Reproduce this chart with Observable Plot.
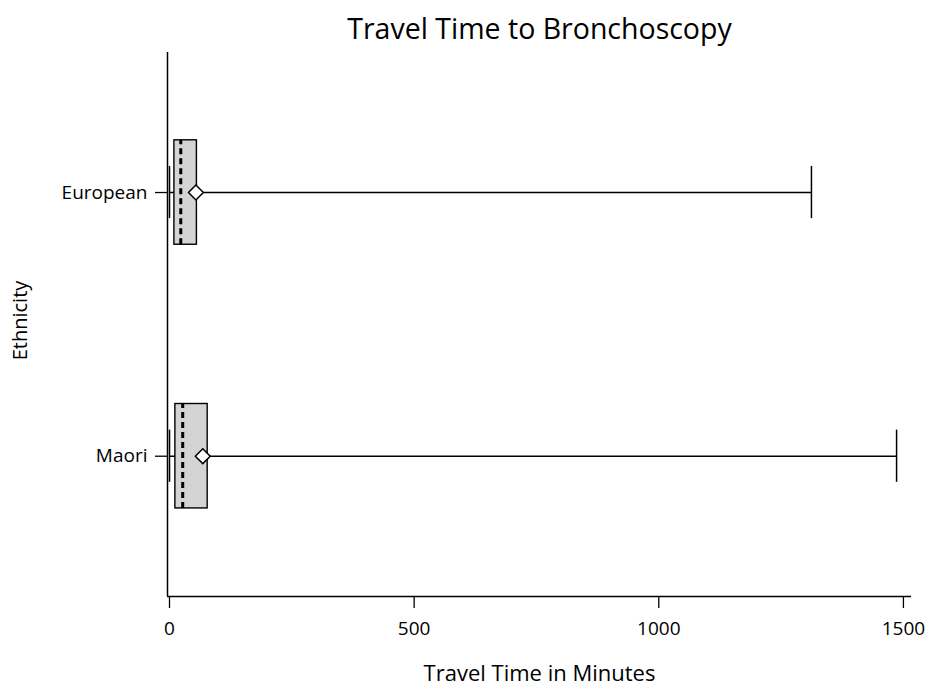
<!DOCTYPE html>
<html>
<head>
<meta charset="utf-8">
<script src="https://cdn.jsdelivr.net/npm/d3@7"></script>
<script src="https://cdn.jsdelivr.net/npm/@observablehq/plot@0.6"></script>
<style>
  body { margin: 0; background: #fff; }
  svg { font-family: "Open Sans", Lato, sans-serif; }
</style>
</head>
<body>
<div id="chart"></div>
<script>
// Data (minutes)
const categories = ["Maori", "European"];
const minVals    = [0, 0];
const q1Vals     = [12, 10];
const medianVals = [27, 23];
const q3Vals     = [78, 56];
const meanVals   = [68, 54];
const maxVals    = [1486, 1312];
const xTicks     = [0, 500, 1000, 1500];

const titleText = "Travel Time to Bronchoscopy";
const xLabel = "Travel Time in Minutes";
const yLabel = "Ethnicity";

const rows = categories.map((c, i) => ({
  cat: c, idx: i,
  min: minVals[i], q1: q1Vals[i], median: medianVals[i],
  q3: q3Vals[i], mean: meanVals[i], max: maxVals[i]
}));

const boxHalf = 0.198;
const capHalf = 0.099;
const xDomain = [-4.1, 1516.5];
const yDomain = [-0.532, 1.531];
const idxTicks = categories.map((c, i) => i);

const chart = Plot.plot({
  width: 927,
  height: 686,
  marginLeft: 167,
  marginRight: 16,
  marginTop: 52,
  marginBottom: 90,
  style: { fontFamily: "'Open Sans', Lato, sans-serif", fontSize: "19px", color: "#000", background: "#fff" },
  x: { domain: xDomain, ticks: xTicks, tickFormat: d => String(d) },
  y: { domain: yDomain, ticks: idxTicks, tickFormat: i => categories[i] },
  marks: [
    // axis lines
    Plot.ruleX([xDomain[0]], { stroke: "#000", strokeWidth: 1.5 }),
    Plot.ruleY([yDomain[0]], { stroke: "#000", strokeWidth: 1.5 }),
    Plot.axisX({ ticks: xTicks, tickFormat: d => String(d), tickSize: 12, tickPadding: 13, fontSize: 19, label: null, stroke: "#000", strokeWidth: 1.3 }),
    Plot.axisY({ ticks: idxTicks, tickFormat: i => categories[i], tickSize: 12, tickPadding: 8, fontSize: 19, label: null, stroke: "#000", strokeWidth: 1.3 }),
    // axis titles
    Plot.text([xLabel], { frameAnchor: "bottom", lineAnchor: "middle", textAnchor: "middle", text: d => d, dy: 77, fontSize: 22, fill: "#000" }),
    Plot.text([yLabel], { frameAnchor: "left", lineAnchor: "middle", textAnchor: "middle", text: d => d, dx: -147, dy: -4, rotate: -90, fontSize: 20, fill: "#000" }),
    // whisker line
    Plot.ruleY(rows, { y: "idx", x1: "min", x2: "max", stroke: "#000", strokeWidth: 1.4 }),
    // whisker caps
    Plot.ruleX(rows, { x: "min", y1: d => d.idx - capHalf, y2: d => d.idx + capHalf, stroke: "#000", strokeWidth: 1.5 }),
    Plot.ruleX(rows, { x: "max", y1: d => d.idx - capHalf, y2: d => d.idx + capHalf, stroke: "#000", strokeWidth: 1.5 }),
    // box
    Plot.rect(rows, { x1: "q1", x2: "q3", y1: d => d.idx - boxHalf, y2: d => d.idx + boxHalf, fill: "#d4d4d4", stroke: "#000", strokeWidth: 1.4 }),
    // median (dashed)
    Plot.ruleX(rows, { x: "median", y1: d => d.idx - boxHalf, y2: d => d.idx + boxHalf, stroke: "#000", strokeWidth: 3, strokeDasharray: "6,4" }),
    // mean diamond
    Plot.dot(rows, { x: "mean", y: "idx", symbol: "diamond2", r: 6.7, fill: "#fff", stroke: "#000", strokeWidth: 1.5 }),
    // title
    Plot.text([titleText], { frameAnchor: "top", lineAnchor: "middle", textAnchor: "middle", text: d => d, dy: -23, fontSize: 28.5, fill: "#000" })
  ]
});
document.getElementById("chart").appendChild(chart);
</script>
</body>
</html>
